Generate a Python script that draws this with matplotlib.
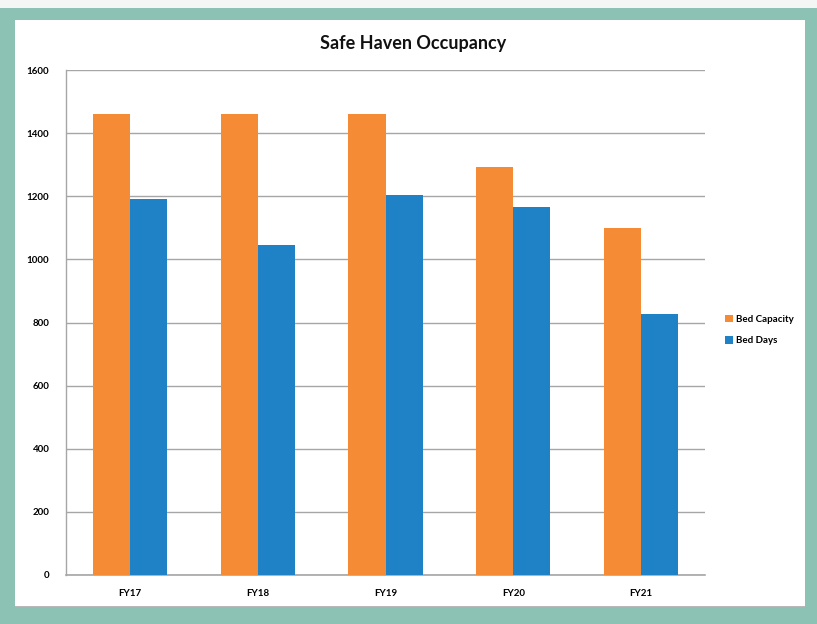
import matplotlib
matplotlib.use("Agg")
import matplotlib.pyplot as plt
from matplotlib.patches import Rectangle
import numpy as np

categories = ["FY17", "FY18", "FY19", "FY20", "FY21"]
bed_capacity = [1460, 1460, 1460, 1292, 1098]
bed_days = [1190, 1046, 1205, 1167, 828]
yticks = [0, 200, 400, 600, 800, 1000, 1200, 1400, 1600]

ORANGE = "#F58B35"
BLUE = "#1F82C6"
TEAL = "#8CC2B4"
GRID = "#A6A6A6"

plt.rcParams['font.family'] = ['Lato', 'DejaVu Sans']

fig = plt.figure(figsize=(8.17, 6.24), dpi=100)
fig.patch.set_facecolor(TEAL)
W, H = 817, 624
# light strip at top
fig.patches.append(Rectangle((0, 1 - 8 / H), 1, 8 / H, transform=fig.transFigure,
                             facecolor="#F4F6F5", edgecolor="none", zorder=-10))
# white panel
fig.patches.append(Rectangle((15 / W, 1 - 606 / H), (805 - 15) / W, (606 - 20) / H,
                             transform=fig.transFigure, facecolor="white",
                             edgecolor="none", zorder=-10))
fig.patches.append(Rectangle((15 / W, 1 - 607 / H), (805 - 15) / W, 1.5 / H,
                             transform=fig.transFigure, facecolor="#B8B8B8",
                             edgecolor="none", zorder=-10))

ax = fig.add_axes([66 / W, 1 - 575 / H, (705 - 66) / W, (575 - 70) / H])
ax.set_zorder(1)
ax.set_facecolor("white")
x = np.arange(len(categories))
w = 0.29
b1 = ax.bar(x - w / 2, bed_capacity, width=w, color=ORANGE, label="Bed Capacity", zorder=3)
b2 = ax.bar(x + w / 2, bed_days, width=w, color=BLUE, label="Bed Days", zorder=3)

ax.set_xlim(-0.5, len(categories) - 0.5)
ax.set_ylim(0, 1600)
ax.set_yticks(yticks)
ax.set_yticklabels([str(v) for v in yticks], fontsize=7, fontweight="bold")
ax.set_xticks(x)
ax.set_xticklabels(categories, fontsize=7, fontweight="bold")
ax.tick_params(axis="both", length=0)
ax.tick_params(axis="y", pad=12)
ax.tick_params(axis="x", pad=10)
ax.yaxis.grid(True, color=GRID, linewidth=1.0, zorder=0)
ax.set_axisbelow(True)
for s in ["top", "right"]:
    ax.spines[s].set_visible(False)
ax.spines["left"].set_color(GRID)
ax.spines["bottom"].set_color(GRID)
ax.spines["left"].set_linewidth(1.0)
ax.spines["bottom"].set_linewidth(1.2)

fig.text(413 / W, 1 - 43 / H, "Safe Haven Occupancy", ha="center", va="center",
         fontsize=13, fontweight="bold", color="#111111")

leg = fig.legend(handles=[b1, b2], labels=["Bed Capacity", "Bed Days"],
                 loc="center left", bbox_to_anchor=(716 / W, 1 - 330 / H),
                 frameon=False, prop={"weight": "bold", "size": 7},
                 handlelength=0.8, handleheight=0.8, handletextpad=0.4,
                 labelspacing=1.3)

fig.savefig("out.png", dpi=100, facecolor=fig.get_facecolor())
